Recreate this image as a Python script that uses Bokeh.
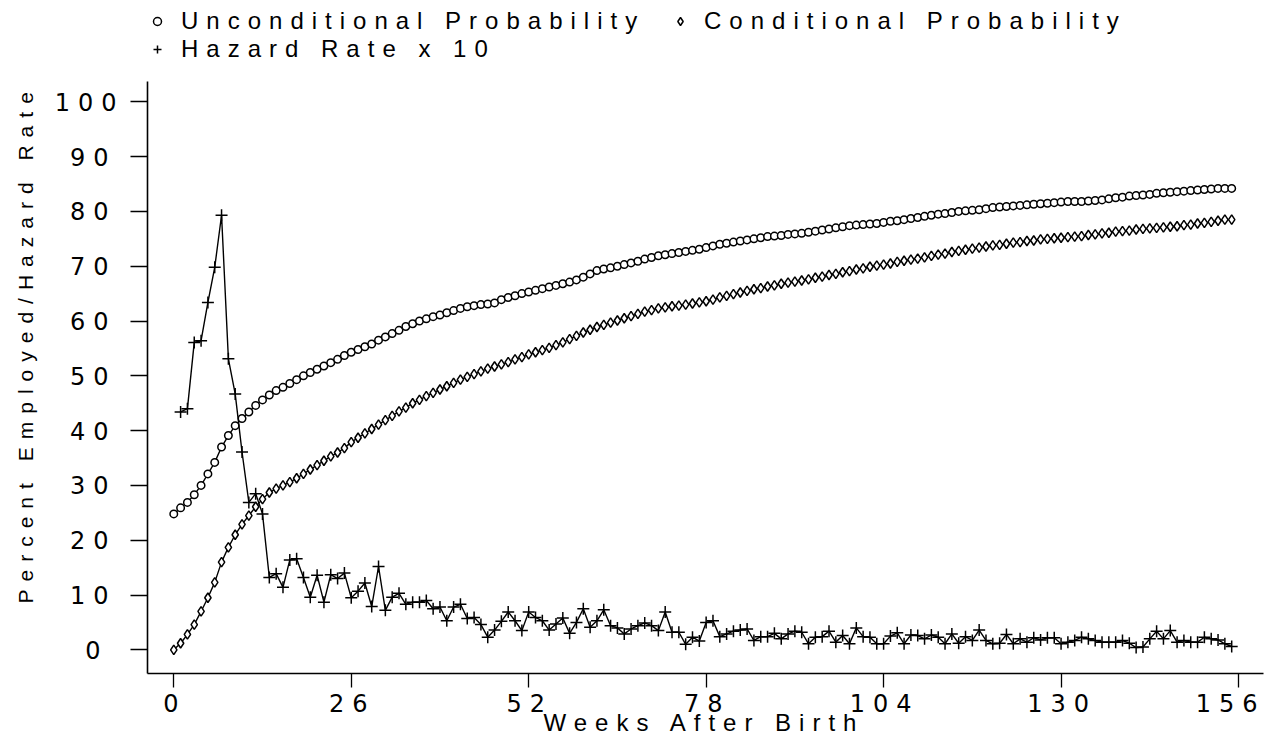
from bokeh.plotting import figure
from bokeh.models import (Range1d, Legend, LegendItem, FixedTicker, LinearAxis, Title,
                          InlineStyleSheet, ColumnDataSource)
from bokeh.embed import file_html
from bokeh.resources import INLINE

# ---------------- data ----------------
weeks = list(range(0, 156))

unconditional = [
    24.8, 25.9, 26.9, 28.3, 30.0, 32.1, 34.2, 37.0, 39.1, 40.9,
    42.2, 43.4, 44.6, 45.6, 46.5, 47.3, 47.9, 48.6, 49.3, 50.0,
    50.6, 51.2, 51.8, 52.4, 53.0, 53.7, 54.3, 54.8, 55.3, 55.8,
    56.5, 57.1, 57.7, 58.3, 59.0, 59.5, 60.0, 60.4, 60.8, 61.1,
    61.5, 61.9, 62.3, 62.6, 62.8, 63.0, 63.1, 63.3, 63.9, 64.3,
    64.6, 65.0, 65.3, 65.6, 65.9, 66.2, 66.5, 66.8, 67.1, 67.5,
    68.0, 68.6, 69.2, 69.5, 69.7, 70.0, 70.3, 70.6, 70.9, 71.3,
    71.6, 71.9, 72.1, 72.3, 72.5, 72.7, 72.9, 73.1, 73.4, 73.7,
    74.0, 74.2, 74.4, 74.6, 74.8, 75.0, 75.2, 75.4, 75.5, 75.6,
    75.8, 75.9, 76.0, 76.2, 76.4, 76.6, 76.8, 77.0, 77.2, 77.4,
    77.5, 77.6, 77.7, 77.8, 78.0, 78.2, 78.3, 78.5, 78.7, 78.9,
    79.1, 79.3, 79.5, 79.6, 79.8, 80.0, 80.1, 80.2, 80.3, 80.5,
    80.7, 80.8, 80.9, 81.0, 81.1, 81.2, 81.3, 81.4, 81.5, 81.6,
    81.7, 81.8, 81.8, 81.8, 81.9, 82.0, 82.1, 82.3, 82.5, 82.6,
    82.8, 82.9, 83.0, 83.1, 83.3, 83.4, 83.5, 83.6, 83.7, 83.8,
    83.9, 84.0, 84.1, 84.2, 84.2, 84.2,
]

conditional = [
    0.0, 1.2, 2.8, 4.6, 7.0, 9.5, 12.3, 16.0, 18.7, 21.0,
    22.9, 24.5, 26.1, 27.5, 28.7, 29.4, 30.0, 30.6, 31.3, 32.1,
    32.9, 33.7, 34.5, 35.3, 36.0, 36.8, 37.9, 38.7, 39.5, 40.3,
    41.1, 41.9, 42.7, 43.5, 44.2, 45.0, 45.6, 46.3, 46.9, 47.5,
    48.1, 48.7, 49.3, 49.8, 50.3, 50.8, 51.3, 51.7, 52.1, 52.5,
    53.0, 53.4, 53.9, 54.3, 54.7, 55.1, 55.6, 56.1, 56.7, 57.3,
    57.9, 58.4, 58.9, 59.3, 59.7, 60.1, 60.5, 60.9, 61.3, 61.7,
    62.0, 62.3, 62.5, 62.7, 62.8, 63.0, 63.2, 63.4, 63.6, 63.9,
    64.3, 64.6, 64.9, 65.2, 65.5, 65.8, 66.0, 66.3, 66.5, 66.8,
    67.0, 67.2, 67.4, 67.6, 67.9, 68.1, 68.4, 68.6, 68.9, 69.1,
    69.4, 69.6, 69.9, 70.1, 70.3, 70.5, 70.8, 71.0, 71.2, 71.4,
    71.6, 71.9, 72.1, 72.3, 72.6, 72.8, 73.0, 73.2, 73.4, 73.6,
    73.8, 73.9, 74.1, 74.3, 74.4, 74.6, 74.7, 74.9, 75.0, 75.1,
    75.2, 75.3, 75.4, 75.5, 75.7, 75.8, 76.0, 76.1, 76.3, 76.4,
    76.5, 76.7, 76.8, 76.9, 77.0, 77.1, 77.2, 77.3, 77.5, 77.6,
    77.8, 77.9, 78.1, 78.3, 78.5, 78.5,
]

hazard_weeks = list(range(1, 156))
hazard_x10 = [
    43.4, 44.0, 56.1, 56.4, 63.4, 69.8, 79.3, 53.1, 46.7, 36.1,
    26.9, 28.5, 24.8, 13.2, 13.9, 11.4, 16.4, 16.6, 13.2, 9.6,
    13.6, 8.7, 13.7, 13.0, 14.0, 9.5, 10.7, 12.2, 7.9, 15.2,
    7.2, 9.6, 10.3, 8.3, 8.7, 8.7, 9.0, 7.5, 7.8, 5.3,
    7.8, 8.3, 5.7, 5.9, 4.6, 2.3, 3.6, 5.2, 6.9, 5.3,
    3.5, 6.9, 5.9, 5.3, 3.6, 4.7, 5.8, 3.0, 5.0, 7.5,
    4.1, 5.3, 7.3, 4.4, 4.0, 2.9, 3.8, 4.4, 4.9, 4.4,
    3.5, 6.9, 3.2, 3.2, 1.0, 2.3, 1.6, 5.0, 5.3, 2.4,
    2.9, 3.4, 3.6, 3.8, 1.7, 2.4, 2.4, 3.0, 2.0, 2.9,
    3.4, 3.2, 1.1, 2.3, 2.4, 3.4, 1.4, 2.6, 1.1, 4.0,
    2.4, 2.3, 1.1, 1.1, 2.5, 3.1, 1.1, 2.7, 2.6, 2.0,
    2.7, 2.3, 1.1, 2.9, 1.2, 2.4, 1.7, 3.6, 1.7, 1.1,
    1.2, 2.8, 1.1, 2.0, 1.4, 2.2, 1.8, 2.2, 2.2, 1.1,
    1.4, 1.7, 2.3, 2.0, 1.7, 1.4, 1.4, 1.4, 1.7, 1.2,
    0.4, 0.5, 2.0, 3.4, 2.0, 3.5, 1.4, 1.7, 1.4, 1.4,
    2.3, 2.0, 1.8, 1.1, 0.6,
]

x_ticks = [0, 26, 52, 78, 104, 130, 156]
x_tick_labels = ["0", "26", "52", "78", "104", "130", "156"]
y_ticks = [0, 10, 20, 30, 40, 50, 60, 70, 80, 90, 100]

series_names = ["Unconditional Probability", "Conditional Probability", "Hazard Rate x 10"]
x_title = "Weeks After Birth"
y_title = "Percent Employed/Hazard Rate"

# ---------------- styling ----------------
FONT = "Liberation Sans"
DIGIT_FONT = "DejaVu Sans"
FS = "24px"
LS = 8            # letter spacing, px
DIGIT_W = 15.27   # advance of one DejaVu Sans digit at 24px
W, H = 1267, 743
B_LEFT, B_RIGHT = 147, 4
X0, X1 = -3.85, 159.66
Y0, Y1 = -4.325, 118.49
PX_PER_WEEK = (W - B_LEFT - B_RIGHT) / (X1 - X0)

p = figure(width=W, height=H, output_backend="svg", toolbar_location=None,
           x_range=Range1d(X0, X1), y_range=Range1d(Y0, Y1),
           min_border_left=B_LEFT, min_border_right=B_RIGHT, min_border_top=0,
           min_border_bottom=70, background_fill_color="white",
           border_fill_color="white")
p.stylesheets = [InlineStyleSheet(css=":host { letter-spacing: %dpx; }" % LS)]
p.outline_line_color = None
p.grid.visible = False

# x axis: line and tick marks
xa = p.xaxis[0]
xa.ticker = FixedTicker(ticks=x_ticks)
xa.major_tick_out = 14
xa.major_tick_in = 0
xa.minor_tick_line_color = None
xa.axis_line_width = 1.6
xa.major_tick_line_width = 1.3
xa.major_label_overrides = {t: "" for t in x_ticks}
xa.major_label_text_font_size = "1px"
xa.major_label_standoff = 0

# x axis: tick labels (letter-spaced text grows to the right, so anchor it a bit left)
label_pos = []
for t, s in zip(x_ticks, x_tick_labels):
    n = len(s)
    anchor = B_LEFT + (t - X0) * PX_PER_WEEK - 3 - (n - 1) * LS / 2
    box_end = anchor - n * DIGIT_W / 2 + n * (DIGIT_W + LS)
    if box_end > W - 2:
        anchor -= box_end - (W - 2)
    label_pos.append(X0 + (anchor - B_LEFT) / PX_PER_WEEK)

xl = LinearAxis(ticker=FixedTicker(ticks=label_pos),
                major_label_overrides={pos: s for pos, s in zip(label_pos, x_tick_labels)},
                axis_line_color=None, major_tick_line_color=None,
                minor_tick_line_color=None, major_label_standoff=0,
                major_label_text_font=DIGIT_FONT, major_label_text_font_size=FS,
                major_label_text_color="black")
p.add_layout(xl, "below")

ya = p.yaxis[0]
ya.ticker = FixedTicker(ticks=y_ticks)
ya.bounds = (Y0, 103.7)
ya.major_tick_out = 17
ya.major_tick_in = 0
ya.minor_tick_line_color = None
ya.axis_line_width = 1.6
ya.major_tick_line_width = 1.3
ya.major_label_text_font = DIGIT_FONT
ya.major_label_text_font_size = FS
ya.major_label_text_color = "black"
ya.major_label_standoff = 30

p.add_layout(Title(text=x_title, align="left", offset=396, standoff=-15,
                   text_font=FONT, text_font_size=FS, text_font_style="normal",
                   text_color="black"), "below")
p.add_layout(Title(text=y_title, align="left", offset=70, standoff=26,
                   vertical_align="top",
                   text_font=FONT, text_font_size="21px", text_font_style="normal",
                   text_color="black"), "left")

src_u = ColumnDataSource(dict(x=weeks, y=unconditional))
src_c = ColumnDataSource(dict(x=weeks, y=conditional))
src_h = ColumnDataSource(dict(x=hazard_weeks, y=hazard_x10))

p.line("x", "y", source=src_u, line_color="black", line_width=1.4)
r_u = p.scatter("x", "y", source=src_u, marker="circle", size=7.5,
                line_color="black", fill_color="white", line_width=1.5)
p.line("x", "y", source=src_c, line_color="black", line_width=1.4)
r_c = p.scatter("x", "y", source=src_c, marker="diamond", size=9.5,
                line_color="black", fill_color="white", line_width=1.5)
p.line("x", "y", source=src_h, line_color="black", line_width=1.4)
r_h = p.scatter("x", "y", source=src_h, marker="cross", size=12,
                line_color="black", line_width=1.5)


def add_legend(label, rend, loc):
    lg = Legend(items=[LegendItem(label=label, renderers=[rend])], location=loc,
                background_fill_alpha=0, border_line_alpha=0, padding=0, margin=0,
                spacing=0, glyph_width=20, glyph_height=28, label_standoff=14,
                label_height=28, label_text_font=FONT, label_text_font_size=FS,
                label_text_color="black")
    p.add_layout(lg)


add_legend(series_names[0], r_u, (0, 638))
add_legend(series_names[1], r_c, (523, 638))
add_legend(series_names[2], r_h, (0, 610))

open("out.html", "w").write(file_html(p, INLINE))
